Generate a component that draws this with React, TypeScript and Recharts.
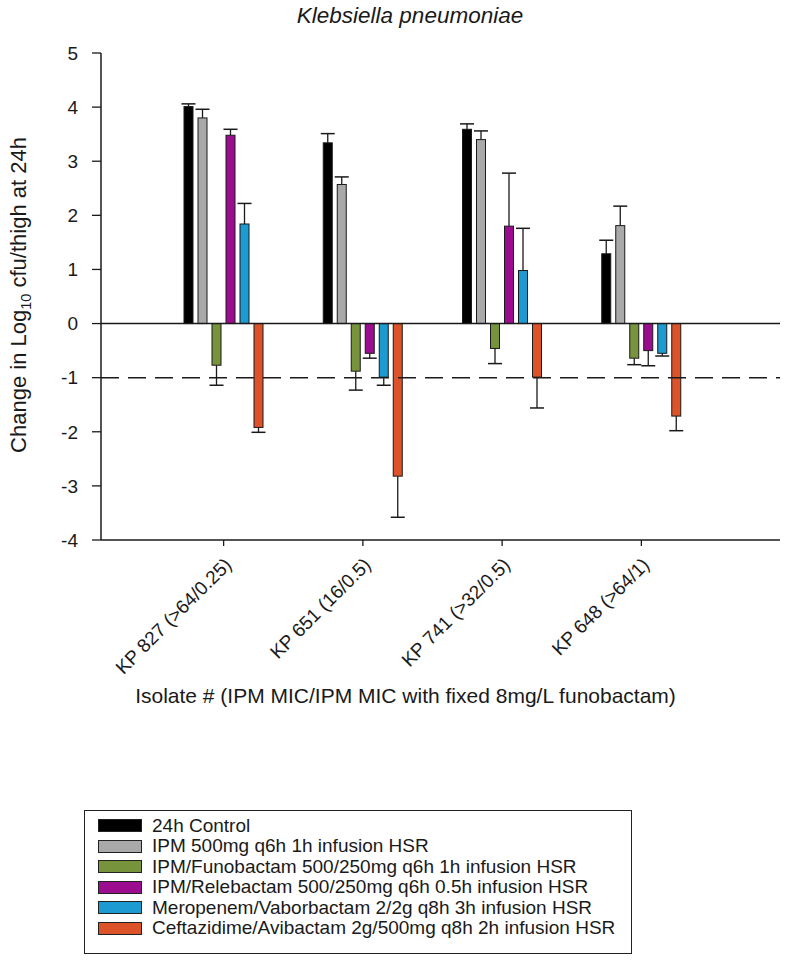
import React from 'react';
import { BarChart, Bar, XAxis, YAxis, ReferenceLine, Legend } from 'recharts';

const isolates = ['KP 827 (>64/0.25)', 'KP 651 (16/0.5)', 'KP 741 (>32/0.5)', 'KP 648 (>64/1)'];

const seriesNames = [
  '24h Control',
  'IPM 500mg q6h 1h infusion HSR',
  'IPM/Funobactam 500/250mg q6h 1h infusion HSR',
  'IPM/Relebactam 500/250mg q6h 0.5h infusion HSR',
  'Meropenem/Vaborbactam 2/2g q8h 3h infusion HSR',
  'Ceftazidime/Avibactam 2g/500mg q8h 2h infusion HSR',
];
const seriesColors = ['#000000', '#a9a9a9', '#77933c', '#9b0d8e', '#1b9bd1', '#dd5329'];

const control24h = [4.01, 3.34, 3.59, 1.29];
const control24hErr = [0.05, 0.17, 0.1, 0.25];
const ipm = [3.8, 2.57, 3.4, 1.81];
const ipmErr = [0.16, 0.14, 0.16, 0.36];
const ipmFuno = [-0.77, -0.88, -0.46, -0.64];
const ipmFunoErr = [0.37, 0.35, 0.28, 0.12];
const ipmRele = [3.48, -0.55, 1.8, -0.5];
const ipmReleErr = [0.11, 0.09, 0.98, 0.28];
const meroVabor = [1.84, -0.99, 0.98, -0.55];
const meroVaborErr = [0.38, 0.15, 0.78, 0.05];
const cazAvi = [-1.92, -2.82, -0.99, -1.71];
const cazAviErr = [0.09, 0.76, 0.57, 0.27];

const yTicks = [-4, -3, -2, -1, 0, 1, 2, 3, 4, 5];

const values = [control24h, ipm, ipmFuno, ipmRele, meroVabor, cazAvi];
const errors = [control24hErr, ipmErr, ipmFunoErr, ipmReleErr, meroVaborErr, cazAviErr];

const data = isolates.map((name, i) => {
  const row: any = { name };
  values.forEach((arr, s) => {
    row['s' + s] = arr[i];
    row['e' + s] = errors[s][i];
  });
  return row;
});

const FONT = '"Liberation Sans", Arial, Helvetica, sans-serif';
const INK = '#1a1a1a';

const makeShape = (s: number) => (props: any) => {
  const { x, y, width, height, payload } = props;
  const v = payload['s' + s];
  const err = payload['e' + s];
  const top = Math.min(y, y + height);
  const h = Math.abs(height);
  const cx = x + width / 2;
  const k = v !== 0 ? h / Math.abs(v) : 0;
  const end = v >= 0 ? top : top + h;
  const wEnd = v >= 0 ? end - err * k : end + err * k;
  return (
    <g>
      <line x1={cx} x2={cx} y1={end} y2={wEnd} stroke={INK} strokeWidth={1.3} />
      <line x1={cx - 7} x2={cx + 7} y1={wEnd} y2={wEnd} stroke={INK} strokeWidth={1.5} />
      <rect x={x} y={top} width={width} height={h} fill={seriesColors[s]} stroke={INK} strokeWidth={1} />
    </g>
  );
};

const XTick = (props: any) => {
  const { x, y, payload } = props;
  const tx = x + 9;
  const ty = y + 18;
  return (
    <text
      x={tx}
      y={ty}
      transform={`rotate(-45, ${tx}, ${ty})`}
      textAnchor="end"
      fontFamily={FONT}
      fontSize={19}
      fill={INK}
    >
      {payload.value}
    </text>
  );
};

const YLabel = () => (
  <text
    x={0}
    y={0}
    transform={`translate(26, 295) rotate(-90)`}
    textAnchor="middle"
    fontFamily={FONT}
    fontSize={22}
    fill={INK}
  >
    <tspan>Change in Log</tspan>
    <tspan fontSize={14.5} dy={5}>10</tspan>
    <tspan dy={-5}> cfu/thigh at 24h</tspan>
  </text>
);

const LegendContent = (props: any) => {
  const items = [...(props.payload || [])].sort(
    (a: any, b: any) => seriesNames.indexOf(a.value) - seriesNames.indexOf(b.value)
  );
  return (
    <div
      style={{
        border: '1.5px solid #222',
        padding: '4.5px 12px 14.5px 12.5px',
        background: '#fff',
        fontFamily: FONT,
        fontSize: 19,
        color: INK,
        width: 548,
        boxSizing: 'border-box',
      }}
    >
      {items.map((p: any, i: number) => (
        <div key={i} style={{ display: 'flex', alignItems: 'center', height: 20.5 }}>
          <span
            style={{
              display: 'inline-block',
              width: 44,
              height: 13,
              boxSizing: 'border-box',
              background: p.color,
              border: '1.5px solid #222',
              marginRight: 10.5,
              flexShrink: 0,
            }}
          />
          <span style={{ whiteSpace: 'nowrap', lineHeight: '20px' }}>{p.value}</span>
        </div>
      ))}
    </div>
  );
};

export default function App() {
  return (
    <div style={{ position: 'absolute', left: 0, top: 0, width: 786, height: 963, background: '#fff' }}>
      <div
        style={{
          position: 'absolute',
          left: 0,
          width: 820,
          top: 3,
          textAlign: 'center',
          fontFamily: FONT,
          fontStyle: 'italic',
          fontSize: 22.5,
          color: INK,
          pointerEvents: 'none',
        }}
      >
        Klebsiella pneumoniae
      </div>
      <BarChart
        width={786}
        height={963}
        data={data}
        margin={{ top: 53, right: 6, left: 0, bottom: 223 }}
        barSize={9}
        barGap={5}
      >
        <XAxis
          dataKey="name"
          type="category"
          padding={{ left: 53, right: 69 }}
          height={200}
          interval={0}
          tick={<XTick />}
          tickSize={6}
          tickLine={{ stroke: INK, strokeWidth: 1.3 }}
          axisLine={{ stroke: INK, strokeWidth: 1.5 }}
          label={{
            value: 'Isolate # (IPM MIC/IPM MIC with fixed 8mg/L funobactam)',
            position: 'insideTop',
            offset: 148,
            dx: -35,
            style: { fontFamily: FONT, fontSize: 21, fill: INK },
          }}
        />
        <XAxis
          xAxisId="top"
          orientation="top"
          dataKey="name"
          height={0}
          tick={false}
          tickLine={false}
          axisLine={{ stroke: INK, strokeWidth: 1.5 }}
        />
        <YAxis
          type="number"
          domain={[-4, 5]}
          ticks={yTicks}
          interval={0}
          width={101}
          tickSize={9}
          tickMargin={14}
          tick={{ fontFamily: FONT, fontSize: 19, fill: INK }}
          tickLine={{ stroke: INK, strokeWidth: 1.3 }}
          axisLine={{ stroke: INK, strokeWidth: 1.5 }}
          label={<YLabel />}
        />
        <YAxis
          yAxisId="right"
          orientation="right"
          domain={[-4, 5]}
          width={0}
          tick={false}
          tickLine={false}
          axisLine={{ stroke: INK, strokeWidth: 1.5 }}
        />
        <ReferenceLine y={0} stroke={INK} strokeWidth={1.5} />
        <ReferenceLine y={-1} stroke={INK} strokeWidth={1.5} strokeDasharray="18 9" />
        {seriesNames.map((n, s) => (
          <Bar
            key={n}
            dataKey={'s' + s}
            name={n}
            fill={seriesColors[s]}
            isAnimationActive={false}
            shape={makeShape(s)}
          />
        ))}
        <Legend
          layout="vertical"
          align="center"
          verticalAlign="middle"
          content={<LegendContent />}
          wrapperStyle={{ left: 84, top: 810, width: 548, height: 'auto' }}
        />
      </BarChart>
    </div>
  );
}
